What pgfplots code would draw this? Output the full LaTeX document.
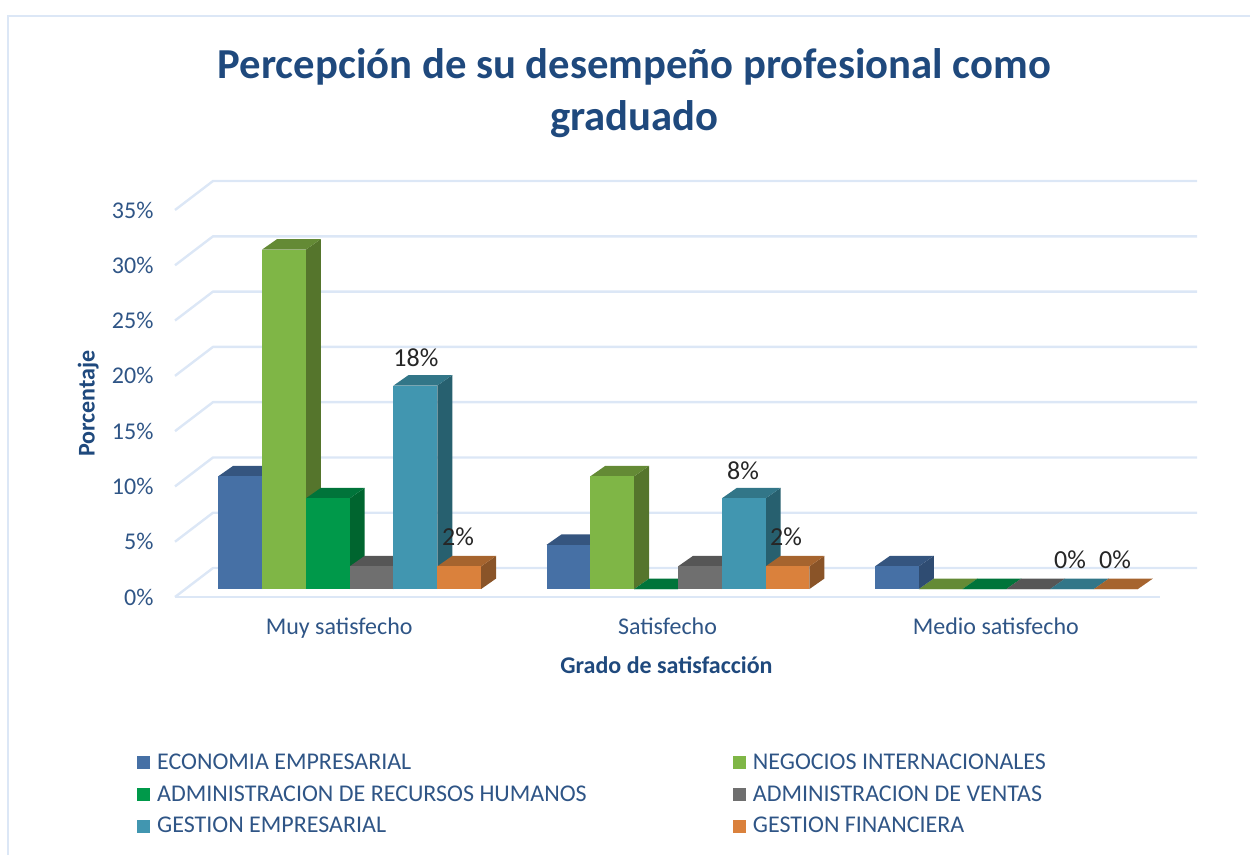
\documentclass[border=0pt]{standalone}
\usepackage{pgfplots}
\usepackage{fontspec}
\setmainfont{Carlito}
\pgfplotsset{compat=1.18}
\definecolor{txt}{HTML}{2F5586}
\definecolor{ttl}{HTML}{1F497D}
\definecolor{gridc}{HTML}{DCE7F6}
\definecolor{aF}{HTML}{4670A5}\definecolor{aT}{HTML}{35557F}\definecolor{aS}{HTML}{2F4C72}
\definecolor{bF}{HTML}{7FB646}\definecolor{bT}{HTML}{648A35}\definecolor{bS}{HTML}{55752C}
\definecolor{cF}{HTML}{00994A}\definecolor{cT}{HTML}{00743A}\definecolor{cS}{HTML}{00652F}
\definecolor{dF}{HTML}{6F6F6F}\definecolor{dT}{HTML}{565656}\definecolor{dS}{HTML}{4A4A4A}
\definecolor{eF}{HTML}{4196B0}\definecolor{eT}{HTML}{327688}\definecolor{eS}{HTML}{27606F}
\definecolor{fF}{HTML}{DA813C}\definecolor{fT}{HTML}{A6642E}\definecolor{fS}{HTML}{8A5428}
% group index, bar index, value, colour prefix
\newcommand\tdbar[4]{%
  \pgfmathsetmacro\xa{#1-0.3682+#2*0.1334}%
  \pgfmathsetmacro\xb{\xa+0.1334}%
  \pgfmathsetmacro\xc{\xb+0.0457}%
  \pgfmathsetmacro\xd{\xa+0.0457}%
  \pgfmathsetmacro\yb{0.72}%
  \pgfmathsetmacro\yt{#3+0.72}%
  \pgfmathsetmacro\ybb{0.72+0.95}%
  \pgfmathsetmacro\ytt{#3+0.72+0.95}%
  \edef\tmp{%
    \noexpand\addplot[forget plot,draw=none,fill=#4S] coordinates {(\xb,\yb) (\xc,\ybb) (\xc,\ytt) (\xb,\yt)};
    \noexpand\addplot[forget plot,draw=none,fill=#4T] coordinates {(\xa,\yt) (\xb,\yt) (\xc,\ytt) (\xd,\ytt)};
    \noexpand\addplot[forget plot,draw=none,fill=#4F] coordinates {(\xa,\yb) (\xb,\yb) (\xb,\yt) (\xa,\yt)};
  }\tmp
}
\newcommand\gridl[1]{%
  \pgfmathsetmacro\ya{#1}\pgfmathsetmacro\yb{#1+2.62}%
  \edef\tmp{\noexpand\addplot[forget plot,draw=gridc,line width=2.4pt,line join=round] coordinates {(-0.5,\ya) (-0.3843,\yb) (2.6127,\yb)};}\tmp
}
\begin{document}
\begin{tikzpicture}[x=1pt,y=1pt]
\path[use as bounding box] (-175,-258) rectangle (1075,597);
\begin{axis}[
  scale only axis, width=985pt, height=387pt,
  xmin=-0.5, xmax=2.5, ymin=0, ymax=35,
  clip=false, axis line style={draw=none}, tick style={draw=none},
  major tick length=0pt,
  xtick={0,1,2}, xticklabels={Muy satisfecho,Satisfecho,Medio satisfecho},
  ytick={0,5,...,35},
  yticklabel={\pgfmathprintnumber{\tick}\%},
  /pgf/number format/assume math mode=true,
  tick label style={font=\fontsize{24}{28}\selectfont, text=txt},
  yticklabel style={xshift=-18pt},
  xticklabel style={yshift=-17pt},
  xlabel={Grado de satisfacción}, ylabel={Porcentaje},
  label style={font=\fontsize{24}{28}\selectfont\bfseries, text=ttl},
  xlabel style={yshift=-12pt,xshift=-1pt},
  ylabel style={at={(axis description cs:-0.088,0.5)},anchor=center},
  title={Percepción de su desempeño profesional como\\graduado},
  title style={font=\fontsize{42.7}{52}\selectfont\bfseries, text=ttl, align=center,
    at={(axis description cs:0.5,1)}, anchor=south, xshift=-33pt, yshift=63pt},
  legend columns=2,
  legend cell align=left,
  legend image code/.code={\fill[#1] (0pt,-6pt) rectangle (12pt,6pt);\path[draw=none,fill=none] (0pt,0pt) -- (18pt,0pt);},
  legend style={draw=none, fill=none, inner sep=0pt, outer sep=0pt,
    font=\fontsize{24}{28}\selectfont, text=txt,
    at={(axis description cs:-0.0386,-0.4007)}, anchor=north west,
    row sep=10.5pt, /tikz/column 2/.style={column sep=144pt}},
]
\gridl{0}\gridl{5}\gridl{10}\gridl{15}\gridl{20}\gridl{25}\gridl{30}\gridl{35}
\addplot[forget plot,draw=gridc,line width=2.4pt] coordinates {(-0.5,0) (2.5,0)};
\tdbar{0}{0}{10.2}{a}
\tdbar{0}{1}{30.7}{b}
\tdbar{0}{2}{8.2}{c}
\tdbar{0}{3}{2.05}{d}
\tdbar{0}{4}{18.4}{e}
\tdbar{0}{5}{2.05}{f}
\tdbar{1}{0}{4.0}{a}
\tdbar{1}{1}{10.2}{b}
\tdbar{1}{2}{0}{c}
\tdbar{1}{3}{2.05}{d}
\tdbar{1}{4}{8.2}{e}
\tdbar{1}{5}{2.05}{f}
\tdbar{2}{1}{0}{b}
\tdbar{2}{2}{0}{c}
\tdbar{2}{3}{0}{d}
\tdbar{2}{4}{0}{e}
\tdbar{2}{5}{0}{f}
\tdbar{2}{0}{2.05}{a}
\addlegendimage{aF}\addlegendentry{ECONOMIA EMPRESARIAL}
\addlegendimage{bF}\addlegendentry{NEGOCIOS INTERNACIONALES}
\addlegendimage{cF}\addlegendentry{ADMINISTRACION DE RECURSOS HUMANOS}
\addlegendimage{dF}\addlegendentry{ADMINISTRACION DE VENTAS}
\addlegendimage{eF}\addlegendentry{GESTION EMPRESARIAL}
\addlegendimage{fF}\addlegendentry{GESTION FINANCIERA}
\begin{scope}[every node/.style={font=\fontsize{26}{30}\selectfont, text=black!85}]
\node at (axis cs:0.2339,21.61) {18\%};
\node at (axis cs:1.2298,11.39) {8\%};
\node at (axis cs:0.3618,5.42) {2\%};
\node at (axis cs:1.3608,5.42) {2\%};
\node at (axis cs:2.2260,3.34) {0\%};
\node at (axis cs:2.3630,3.34) {0\%};
\end{scope}
\end{axis}
\draw[gridc,line width=2.4pt] (-167,-258) -- (-167,581) -- (1075,581);
\end{tikzpicture}
\end{document}
